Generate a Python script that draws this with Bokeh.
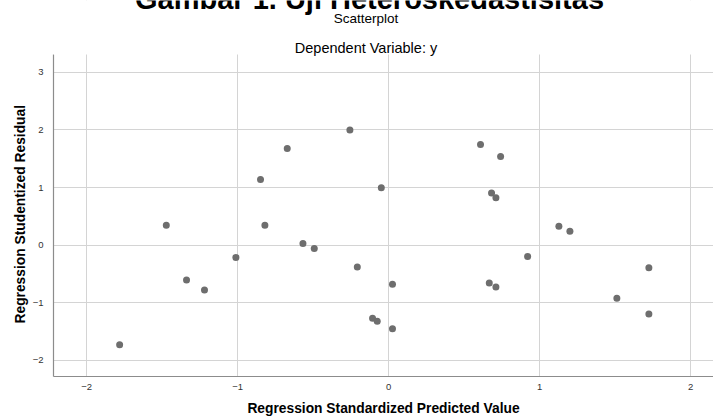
from bokeh.plotting import figure
from bokeh.models import FixedTicker, Label, ColumnDataSource, BoxAnnotation, Title
from bokeh.embed import file_html
from bokeh.resources import INLINE

# ---- data ----
pred = [-0.256, -0.671, -0.848, -1.472, -0.819, -0.567, 0.609, 0.742, -0.048,
        0.682, 0.711, 1.128, 1.201, -0.492, -1.011, -1.338, -1.219, -1.781,
        -0.207, 0.026, -0.106, -0.075, 0.026, 0.667, 0.711, 0.921, 1.724,
        1.512, 1.724]
resid = [2.00, 1.678, 1.142, 0.346, 0.346, 0.029, 1.747, 1.540, 0.998,
         0.905, 0.825, 0.329, 0.242, -0.058, -0.213, -0.606, -0.779, -1.730,
         -0.381, -0.680, -1.269, -1.321, -1.453, -0.657, -0.727, -0.196, -0.392,
         -0.923, -1.194]
x_ticks = [-2, -1, 0, 1, 2]
y_ticks = [-2, -1, 0, 1, 2, 3]
main_title = "Gambar 1. Uji Heteroskedastisitas"
sub_title = "Scatterplot"
dep_title = "Dependent Variable: y"
x_title = "Regression Standardized Predicted Value"
y_title = "Regression Studentized Residual"

# ---- layout ----
W, H = 713, 419
L, R, B = 53, 0, 43          # borders (px)
PLOT_TOP = 54                # top of the data area (px)
X0, X1 = -2.219, 2.152       # visible x range
Y0, Y_DATA_TOP = -2.28, 3.31 # visible y range of the data area
FRAME_BOTTOM = H - B
# the frame reaches the top of the canvas so header texts are not clipped;
# the strip above the data area is masked white
Y_FRAME_TOP = Y_DATA_TOP + PLOT_TOP * (Y_DATA_TOP - Y0) / (FRAME_BOTTOM - PLOT_TOP)

p = figure(width=W, height=H, output_backend="svg", toolbar_location=None,
           x_range=(X0, X1), y_range=(Y0, Y_FRAME_TOP),
           min_border_left=L, min_border_right=R, min_border_top=0,
           min_border_bottom=B)
p.outline_line_color = None
p.background_fill_color = "white"
p.border_fill_color = "white"

src = ColumnDataSource(dict(x=pred, y=resid))
p.scatter("x", "y", source=src, size=7, fill_color="#6e6e6e",
          line_color=None)

for ax, ticks in ((p.xaxis[0], x_ticks), (p.yaxis[0], y_ticks)):
    ax.ticker = FixedTicker(ticks=ticks)
    ax.major_tick_in = 0
    ax.major_tick_out = 0
    ax.minor_tick_in = 0
    ax.minor_tick_out = 0
    ax.axis_line_color = "#8c8c8c"
    ax.axis_line_width = 1.2
    ax.major_label_text_font = "Liberation Sans"
    ax.major_label_text_font_size = "9.5px"
    ax.major_label_text_color = "#333333"

p.xaxis.axis_label = x_title
p.xaxis.axis_label_text_font = "Liberation Sans"
p.xaxis.axis_label_text_font_style = "bold"
p.xaxis.axis_label_text_font_size = "13.8px"
p.xaxis.axis_label_text_color = "black"
p.xaxis.major_label_standoff = 7
p.xaxis.axis_label_standoff = 8
p.yaxis.major_label_standoff = 10
p.yaxis.major_label_orientation = "horizontal"
p.yaxis.bounds = (Y0, Y_DATA_TOP)

# y-axis title: centred on the data area (not the whole frame)
p.add_layout(Title(text=y_title, align="left", offset=FRAME_BOTTOM - 323,
                   vertical_align="bottom", standoff=4,
                   text_font="Liberation Sans", text_font_style="bold",
                   text_font_size="13.8px", text_color="black"), "left")

p.xgrid.ticker = FixedTicker(ticks=x_ticks)
p.ygrid.ticker = FixedTicker(ticks=y_ticks)
for g in (p.xgrid, p.ygrid):
    g.grid_line_color = "#d4d4d4"
    g.grid_line_width = 1

p.add_layout(BoxAnnotation(bottom=Y_DATA_TOP, fill_color="white",
                           fill_alpha=1.0, line_color=None))

def add_text(txt, px, py, size, bold):
    # screen units: offset from the frame's left edge / bottom edge
    p.add_layout(Label(x=px - L, y=FRAME_BOTTOM - py,
                       x_units="screen", y_units="screen",
                       text=txt, text_align="center",
                       text_baseline="alphabetic",
                       text_font="Liberation Sans",
                       text_font_style="bold" if bold else "normal",
                       text_font_size=size, text_color="black"))

add_text(main_title, 369, -2, "29px", True)
add_text(sub_title, 365.5, 18, "13.5px", False)
add_text(dep_title, 365.5, 47, "14.5px", False)

open("out.html", "w").write(file_html(p, INLINE))
